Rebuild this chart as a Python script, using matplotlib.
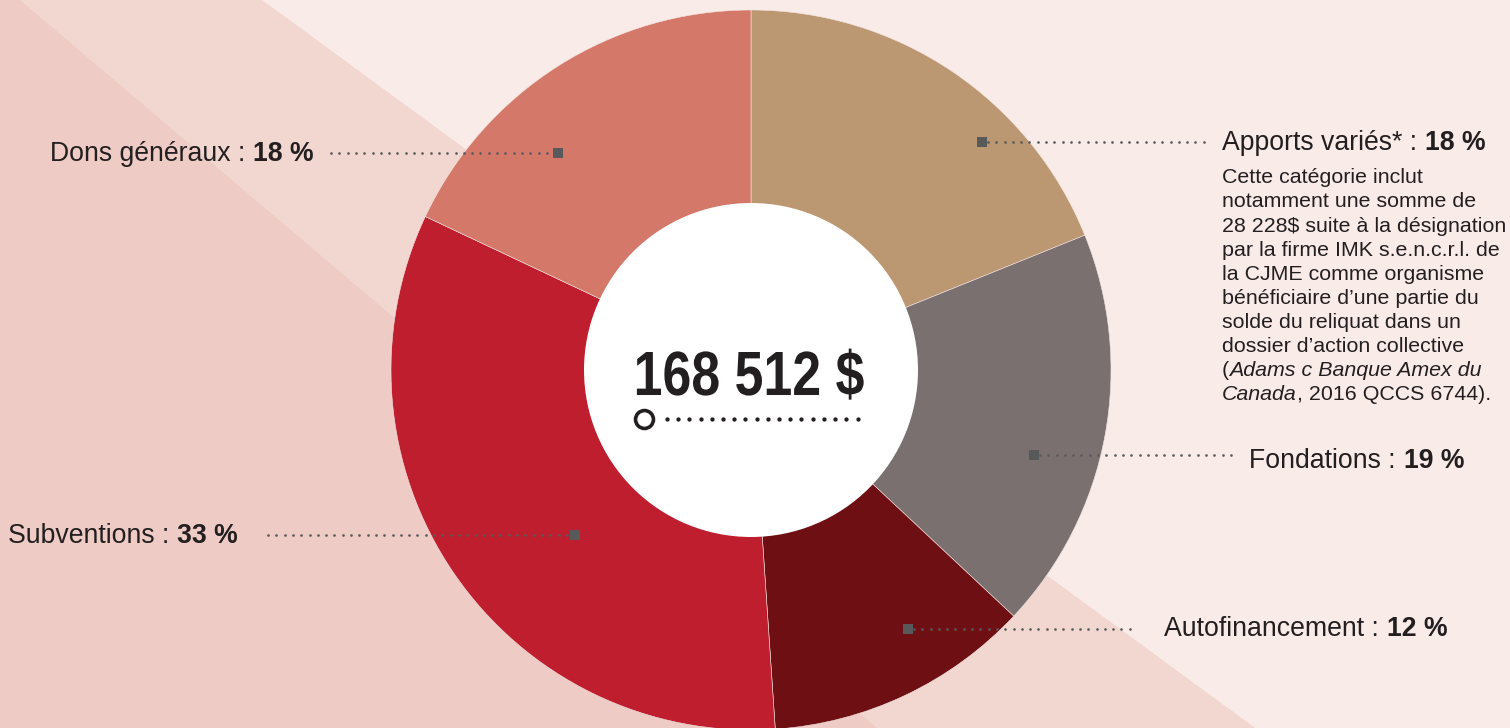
import matplotlib
matplotlib.use('Agg')
import matplotlib.pyplot as plt
from matplotlib.patches import Polygon, Circle
from matplotlib.patheffects import AbstractPathEffect
from matplotlib.transforms import Affine2D
import numpy as np

W, H = 1510, 728

# data
categories = ['Apports variés*', 'Fondations', 'Autofinancement', 'Subventions', 'Dons généraux']
shares = [18.9, 18.1, 11.95, 33.1, 18.0]      # slice sizes as drawn
pct_labels = ['18 %', '19 %', '12 %', '33 %', '18 %']
total_label = '168 512 $'
note_lines = [
    [('Cette catégorie inclut', 'normal')],
    [('notamment une somme de', 'normal')],
    [('28 228$ suite à la désignation', 'normal')],
    [('par la firme IMK s.e.n.c.r.l. de', 'normal')],
    [('la CJME comme organisme', 'normal')],
    [('bénéficiaire d’une partie du', 'normal')],
    [('solde du reliquat dans un', 'normal')],
    [('dossier d’action collective', 'normal')],
    [('(', 'normal'), ('Adams c Banque Amex du', 'italic')],
    [('Canada', 'italic'), (', 2016 QCCS 6744).', 'normal')],
]

# style
colors = ['#BC9872', '#7A7070', '#6E0F13', '#BE1E2E', '#D4786A']
TXT = '#231F20'
GREY = '#58595B'
FONT = 'Liberation Sans'
cx, cy, R, r_in = 751, 370, 360, 167

# label layout (pixel positions, y from top): square x, square y, leader start, leader end, text x, baseline
label_pos = [
    (982, 141.5, 988, 1210, 1222, 149.5),
    (1034, 455, 1040, 1235, 1249, 468),
    (908, 629, 914, 1136, 1164, 636),
    (575, 535, 268, 569, 8, 543),
    (558, 153, 331, 552, 50, 161),
]


class Squeeze(AbstractPathEffect):
    # narrows the glyphs horizontally around x0 (display px), a stand-in for a condensed face
    def __init__(self, sx, x0):
        super().__init__()
        self.sx = sx
        self.x0 = x0

    def draw_path(self, renderer, gc, tpath, affine, rgbFace=None):
        squeeze = Affine2D().translate(-self.x0, 0).scale(self.sx, 1).translate(self.x0, 0)
        renderer.draw_path(gc, tpath, affine + squeeze, rgbFace)


fig = plt.figure(figsize=(15.1, 7.28), dpi=100)
fig.patch.set_facecolor('#EECBC5')
ax = fig.add_axes([0, 0, 1, 1])
ax.set_facecolor('none')


def Y(y):
    return H - y


# diagonal background bands
ax.add_patch(Polygon([(20, Y(0)), (262, Y(0)), (1255, Y(H)), (877, Y(H))],
                     closed=True, fc='#F2D7D1', ec='none', zorder=0))
ax.add_patch(Polygon([(262, Y(0)), (W, Y(0)), (W, Y(H)), (1255, Y(H))],
                     closed=True, fc='#F9EBE8', ec='none', zorder=0))

# donut
ax.pie(shares, colors=colors, startangle=90, counterclock=False, radius=R,
       center=(cx, Y(cy)), wedgeprops=dict(edgecolor='#F4E4E0', linewidth=0.4))
ax.add_patch(Circle((cx, Y(cy)), r_in, fc='white', ec='none', zorder=5))

ax.set_xlim(0, W)
ax.set_ylim(0, H)
ax.set_aspect('equal')
ax.axis('off')

renderer = fig.canvas.get_renderer()


def rich_text(x, y, parts, size):
    # parts: (text, weight, style, gap before)
    for s, weight, style, gap in parts:
        x += gap
        t = ax.text(x, Y(y), s, fontsize=size, fontweight=weight, fontstyle=style,
                    color=TXT, ha='left', va='baseline', family=FONT, zorder=10)
        x += t.get_window_extent(renderer=renderer).width


def leader(x0, x1, y):
    xs = np.arange(x0, x1, 8.3)
    ax.plot(xs, np.full(len(xs), Y(y)), 'o', ms=1.9, mew=0, color=GREY, zorder=8)


size_lab = 19.2
for cat, pct, (sx, sy, lx0, lx1, tx, tb) in zip(categories, pct_labels, label_pos):
    ax.plot(sx, Y(sy), 's', ms=7.6, mew=0, color=GREY, zorder=9)
    leader(lx0, lx1, sy)
    rich_text(tx, tb, [(cat + ' :', 'normal', 'normal', 0),
                       (pct, 'bold', 'normal', size_lab * 0.42)], size_lab)

# note under Apports variés
for i, line in enumerate(note_lines):
    rich_text(1222, 183.3 + i * 24.1, [(s, 'normal', st, 0) for s, st in line], 15.4)

# centre total
ax.text(749, Y(395), total_label, fontsize=45, fontweight='bold', family=FONT,
        color=TXT, ha='center', va='baseline', zorder=10,
        path_effects=[Squeeze(0.83, 749)])
ax.plot(643.5, Y(419.3), 'o', ms=12.9, mfc='white', mec=TXT, mew=2.6, zorder=11)
dots = np.append(np.arange(667, 852, 11.2), 858)
ax.plot(dots, np.full(len(dots), Y(419.3)), 'o', ms=3.1, mew=0, color=TXT, zorder=11)

fig.savefig('out.png', dpi=100, facecolor=fig.get_facecolor())
